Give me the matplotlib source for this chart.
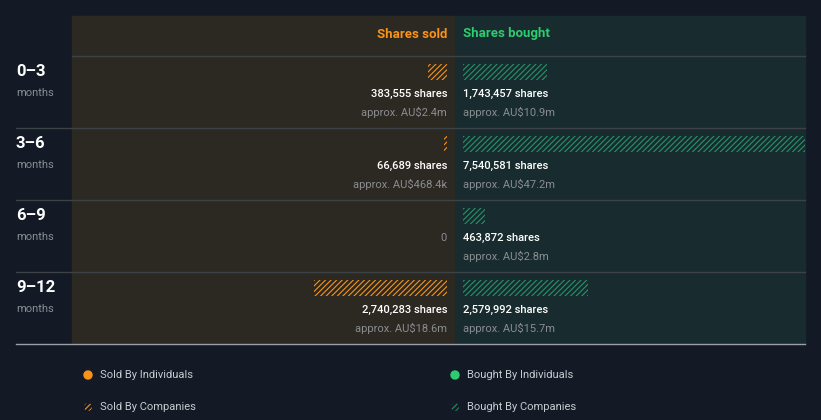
import matplotlib.pyplot as plt
import matplotlib.transforms as mtransforms
from matplotlib.patches import Rectangle, Ellipse

plt.rcParams['font.family'] = ['Roboto', 'DejaVu Sans']
plt.rcParams['hatch.linewidth'] = 0.8

# данные
periods = ['0–3', '3–6', '6–9', '9–12']
sold = [383555, 66689, 0, 2740283]
sold_value = ['approx. AU$2.4m', 'approx. AU$468.4k', '', 'approx. AU$18.6m']
bought = [1743457, 7540581, 463872, 2579992]
bought_value = ['approx. AU$10.9m', 'approx. AU$47.2m', 'approx. AU$2.8m', 'approx. AU$15.7m']

BG = '#131a26'
SOLD_BG = '#2c2822'
BOUGHT_BG = '#182b2e'
ORANGE = '#f7931a'
GREEN = '#26936a'
GREEN_TXT = '#2ecc71'
GREY = '#8a8d92'

W, H = 821, 420
fig = plt.figure(figsize=(W / 100, H / 100), dpi=100, facecolor=BG)


def fx(px):
    return px / W


def fy(py):
    return 1 - py / H


# фоновые панели
fig.patches.append(Rectangle((fx(72), fy(343)), fx(455) - fx(72), fy(16) - fy(343),
                             transform=fig.transFigure, color=SOLD_BG, zorder=-2))
fig.patches.append(Rectangle((fx(455), fy(343)), fx(805) - fx(455), fy(16) - fy(343),
                             transform=fig.transFigure, color=BOUGHT_BG, zorder=-2))

# линии
fig.add_artist(plt.Line2D([fx(72), fx(805)], [fy(56), fy(56)], color='#3c4246', lw=1, zorder=-1))
for py in [128, 200, 272]:
    fig.add_artist(plt.Line2D([fx(16), fx(805)], [fy(py), fy(py)], color='#3c4246', lw=1, zorder=-1))
fig.add_artist(plt.Line2D([fx(16), fx(805)], [fy(343.5), fy(343.5)], color='#9aa0a6', lw=1, zorder=-1))

scale = 4.84e-5  # px per share
top, bottom = 56, 344
n = len(periods)

ax_s = fig.add_axes([fx(72), fy(bottom), fx(447) - fx(72), fy(top) - fy(bottom)])
ax_b = fig.add_axes([fx(463), fy(bottom), fx(805) - fx(463), fy(top) - fy(bottom)])
ax_s.set_xlim((447 - 72) / scale, 0)
ax_b.set_xlim(0, (805 - 463) / scale)
for ax in (ax_s, ax_b):
    ax.set_ylim(n, 0)
    ax.axis('off')
    ax.patch.set_alpha(0)

ys = [i + 16 / 72 for i in range(n)]
ax_s.barh(ys, sold, height=16 / 72, color='none', edgecolor=ORANGE, hatch='//////', lw=0)
ax_b.barh(ys, bought, height=16 / 72, color='none', edgecolor=GREEN, hatch='//////', lw=0)

for i in range(n):
    if sold[i] > 0:
        ax_s.text(0, i + 38 / 72, f'{sold[i]:,} shares', ha='right', va='center',
                  color='white', fontsize=8, fontweight='medium')
        ax_s.text(0, i + 56 / 72, sold_value[i], ha='right', va='center',
                  color=GREY, fontsize=8)
    else:
        ax_s.text(0, i + 38 / 72, '0', ha='right', va='center', color=GREY, fontsize=8)
    ax_b.text(0, i + 38 / 72, f'{bought[i]:,} shares', ha='left', va='center',
              color='white', fontsize=8, fontweight='medium')
    ax_b.text(0, i + 56 / 72, bought_value[i], ha='left', va='center',
              color=GREY, fontsize=8)

# подписи строк
trans = mtransforms.blended_transform_factory(fig.transFigure, ax_s.transData)
for i, p in enumerate(periods):
    fig.text(fx(16), 0, p, transform=trans, ha='left', va='center', color='white',
             fontsize=12, fontweight='bold').set_y(i + 15.5 / 72)
    fig.text(fx(16), 0, 'months', transform=trans, ha='left', va='center', color=GREY,
             fontsize=8).set_y(i + 37 / 72)

# заголовки
fig.text(fx(447), fy(34), 'Shares sold', ha='right', va='center', color=ORANGE,
         fontsize=9.5, fontweight='bold')
fig.text(fx(463), fy(34), 'Shares bought', ha='left', va='center', color=GREEN_TXT,
         fontsize=9.5, fontweight='bold')

# легенда
legend = [(88, 375, ORANGE, False, 'Sold By Individuals'),
          (455, 375, GREEN_TXT, False, 'Bought By Individuals'),
          (88, 407, ORANGE, True, 'Sold By Companies'),
          (455, 407, GREEN, True, 'Bought By Companies')]
for x, y, c, hatched, label in legend:
    if hatched:
        circ = Ellipse((fx(x), fy(y)), 8 / W, 8 / H, transform=fig.transFigure,
                       facecolor='none', edgecolor=c, hatch='//////', lw=0)
    else:
        circ = Ellipse((fx(x), fy(y)), 8 / W, 8 / H, transform=fig.transFigure, color=c)
    fig.patches.append(circ)
    fig.text(fx(x + 12), fy(y), label, ha='left', va='center', color='#c8cbd0', fontsize=8)

fig.savefig('out.png', dpi=100, facecolor=BG)
